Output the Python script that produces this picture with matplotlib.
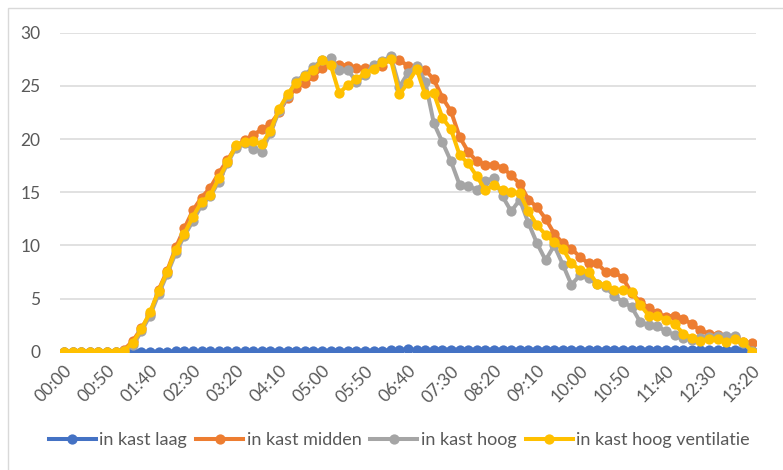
import matplotlib
matplotlib.use("Agg")
import matplotlib.pyplot as plt
from matplotlib.patches import Rectangle

# ---- data ----
times = [f"{(m // 60):02d}:{(m % 60):02d}" for m in range(0, 801, 10)]
tick_labels = ["00:00", "00:50", "01:40", "02:30", "03:20", "04:10", "05:00", "05:50",
               "06:40", "07:30", "08:20", "09:10", "10:00", "10:50", "11:40", "12:30", "13:20"]

laag = [0.0, 0.0, 0.0, 0.0, 0.0, 0.0, 0.0, 0.0, 0.0, 0.0,
        0.0, 0.0, 0.0, 0.05, 0.05, 0.05, 0.05, 0.05, 0.05, 0.05,
        0.05, 0.05, 0.05, 0.1, 0.1, 0.1, 0.1, 0.1, 0.1, 0.1,
        0.1, 0.1, 0.1, 0.1, 0.1, 0.1, 0.1, 0.1, 0.15, 0.15,
        0.25, 0.15, 0.15, 0.2, 0.2, 0.2, 0.2, 0.2, 0.2, 0.2,
        0.2, 0.2, 0.2, 0.2, 0.2, 0.2, 0.2, 0.2, 0.2, 0.2,
        0.2, 0.2, 0.2, 0.2, 0.2, 0.2, 0.2, 0.2, 0.2, 0.2,
        0.2, 0.2, 0.2, 0.2, 0.2, 0.2, 0.2, 0.2, 0.2, 0.15,
        0.1]

midden = [0, 0, 0, 0, 0, 0, 0, 0.2, 1.0, 2.2,
          3.5, 5.8, 7.6, 9.8, 11.6, 13.3, 14.5, 15.4, 16.8, 18.0,
          19.3, 19.9, 20.4, 20.9, 21.4, 22.5, 23.9, 24.8, 25.3, 25.9,
          26.7, 27.1, 27.0, 26.9, 26.7, 26.7, 26.8, 26.9, 27.6, 27.4,
          26.9, 26.6, 26.5, 25.6, 23.9, 22.6, 20.2, 18.8, 17.9, 17.6,
          17.6, 17.3, 16.6, 15.8, 14.3, 13.6, 12.5, 11.1, 10.2, 9.7,
          8.9, 8.3, 8.3, 7.5, 7.5, 6.9, 5.5, 4.7, 4.1, 3.6,
          3.3, 3.4, 3.1, 2.6, 2.0, 1.7, 1.6, 1.4, 1.4, 0.9,
          0.8]

hoog = [0, 0, 0, 0, 0, 0, 0, 0.1, 0.6, 1.9,
        3.4, 5.4, 7.3, 9.3, 10.9, 12.3, 13.8, 14.6, 16.0, 17.7,
        19.2, 19.6, 19.1, 18.8, 20.6, 22.6, 24.0, 25.5, 26.0, 26.8,
        27.4, 27.6, 26.5, 26.5, 25.4, 26.0, 27.0, 27.3, 27.8, 24.9,
        26.2, 26.9, 25.4, 21.5, 19.7, 17.9, 15.7, 15.6, 15.2, 16.1,
        16.3, 14.6, 13.2, 14.3, 12.1, 10.2, 8.6, 10.0, 8.2, 6.3,
        7.2, 6.9, 6.4, 6.1, 5.2, 4.7, 4.2, 2.8, 2.5, 2.4,
        1.9, 1.6, 1.3, 1.1, 1.3, 1.4, 1.5, 1.5, 1.5, 0.8,
        0.1]

ventilatie = [0, 0, 0, 0, 0, 0, 0, 0.1, 0.85, 2.1,
              3.7, 5.7, 7.5, 9.6, 11.1, 12.7, 14.1, 14.7, 16.3, 17.8,
              19.4, 19.7, 19.8, 19.5, 20.8, 22.8, 24.2, 25.3, 25.9, 26.5,
              27.4, 27.0, 24.3, 25.1, 25.6, 26.2, 26.6, 27.2, 27.5, 24.2,
              25.3, 26.6, 24.2, 24.3, 22.0, 20.9, 18.5, 17.7, 16.5, 15.2,
              15.7, 15.2, 15.0, 14.9, 13.2, 11.9, 11.0, 10.3, 9.7, 8.3,
              7.7, 7.5, 6.4, 6.3, 5.8, 5.8, 5.6, 4.4, 3.4, 3.4,
              3.0, 2.6, 1.7, 1.3, 1.0, 1.2, 1.2, 0.9, 1.2, 0.9,
              0.0]

series_names = ["in kast laag", "in kast midden", "in kast hoog", "in kast hoog ventilatie"]
series_values = [laag, midden, hoog, ventilatie]
colors = ["#4472C4", "#ED7D31", "#A5A5A5", "#FFC000"]

# ---- plot ----
plt.rcParams["font.family"] = ["Lato", "DejaVu Sans"]
fig = plt.figure(figsize=(7.83, 4.70), dpi=100)
fig.patch.set_facecolor("white")
fig.add_artist(Rectangle((8 / 783, -0.05), 1.0, (470 - 8) / 470 + 0.05,
                         transform=fig.transFigure, fill=False,
                         edgecolor="#D9D9D9", linewidth=1.0))

ax = fig.add_axes([60 / 783, (470 - 351.7) / 470, 696 / 783, 319 / 470])
x = list(range(len(times)))
for name, vals, c in zip(series_names, series_values, colors):
    ax.plot(x, vals, color=c, linewidth=2.9, marker="o", markersize=7.4,
            markeredgewidth=0, label=name, solid_joinstyle="round")

ax.set_xlim(-0.46, len(times) - 1 + 0.46)
ax.set_ylim(0, 30)
ax.set_yticks([0, 5, 10, 15, 20, 25, 30])
ax.yaxis.grid(True, color="#D9D9D9", linewidth=1.1)
ax.set_axisbelow(True)
for s in ax.spines.values():
    s.set_visible(False)

tick_pos = [times.index(t) for t in tick_labels]
ax.set_xticks(tick_pos)
ax.set_xticklabels(tick_labels, rotation=45, ha="right", rotation_mode="anchor")
ax.tick_params(axis="both", length=0, labelsize=12.5, labelcolor="#595959")
ax.tick_params(axis="y", pad=14)
ax.tick_params(axis="x", pad=8)

leg = fig.legend(loc="center", bbox_to_anchor=(0.51, (470 - 440) / 470),
                 ncol=4, frameon=False, fontsize=13, handlelength=2.6,
                 columnspacing=0.5, handletextpad=0.2, labelcolor="#595959")

fig.savefig("out.png", dpi=100, facecolor="white")
